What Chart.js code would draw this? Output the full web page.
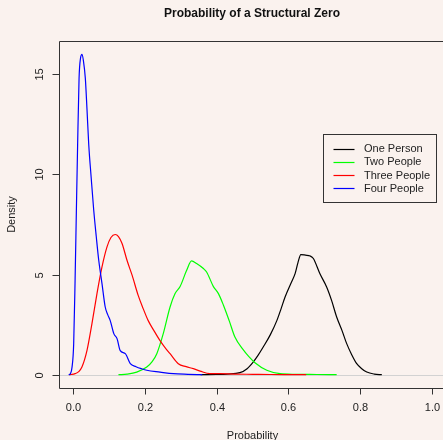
<!DOCTYPE html>
<html>
<head>
<meta charset="utf-8">
<script src="https://cdn.jsdelivr.net/npm/chart.js@4"></script>
<style>
  html, body { margin: 0; padding: 0; background: #FAF2EE; }
  #wrap { width: 443px; height: 440px; }
</style>
</head>
<body>
<div id="wrap"><canvas id="chart" width="443" height="440"></canvas></div>
<script>
// --- data ---
const seriesNames = ['One Person', 'Two People', 'Three People', 'Four People'];
const seriesColors = ['#000000', '#00FF00', '#FF0000', '#0000FF'];

const oneX = [0.355, 0.40, 0.43, 0.465, 0.485, 0.502, 0.515, 0.530, 0.55, 0.568, 0.58, 0.591, 0.609, 0.619, 0.627, 0.635, 0.648, 0.661, 0.670, 0.688, 0.707, 0.721, 0.735, 0.75, 0.763, 0.777, 0.791, 0.805, 0.819, 0.84, 0.861];
const oneY = [0, 0.01, 0.03, 0.1, 0.3, 0.63, 0.95, 1.38, 2.0, 2.7, 3.3, 3.88, 4.63, 5.05, 5.6, 6.0, 5.97, 5.93, 5.8, 5.05, 4.38, 3.7, 2.88, 2.2, 1.55, 1.0, 0.55, 0.3, 0.13, 0.03, 0];

const twoX = [0.126, 0.15, 0.177, 0.205, 0.22, 0.233, 0.251, 0.270, 0.284, 0.298, 0.316, 0.330, 0.344, 0.363, 0.372, 0.391, 0.405, 0.419, 0.435, 0.451, 0.474, 0.490, 0.507, 0.54, 0.577, 0.62, 0.68, 0.735];
const twoY = [0, 0.03, 0.13, 0.38, 0.65, 1.05, 2.05, 3.38, 4.05, 4.4, 5.2, 5.68, 5.55, 5.3, 5.13, 4.4, 4.05, 3.47, 2.7, 1.88, 1.25, 0.9, 0.6, 0.22, 0.05, 0.02, 0.01, 0];

const threeX = [-0.012, -0.005, 0.005, 0.015, 0.024, 0.038, 0.052, 0.066, 0.080, 0.094, 0.105, 0.117, 0.126, 0.136, 0.150, 0.164, 0.181, 0.195, 0.209, 0.225, 0.242, 0.256, 0.270, 0.293, 0.315, 0.335, 0.354, 0.381, 0.41, 0.45, 0.5, 0.55, 0.6, 0.65];
const threeY = [0, 0.01, 0.05, 0.15, 0.38, 1.2, 2.55, 4.05, 5.38, 6.38, 6.85, 7.0, 6.9, 6.55, 5.7, 4.97, 3.96, 3.3, 2.7, 2.2, 1.7, 1.35, 1.05, 0.55, 0.4, 0.3, 0.18, 0.05, 0.05, 0.03, 0.02, 0.01, 0.005, 0];

const fourX = [-0.013, -0.008, -0.0036, 0.001, 0.005, 0.0084, 0.012, 0.016, 0.02, 0.0243, 0.028, 0.0335, 0.038, 0.043, 0.05, 0.057, 0.064, 0.071, 0.080, 0.089, 0.096, 0.103, 0.113, 0.122, 0.131, 0.145, 0.159, 0.175, 0.19, 0.205, 0.242, 0.279, 0.32, 0.36];
const fourY = [0, 0.05, 0.38, 1.55, 4.8, 8.1, 11.5, 14.8, 15.8, 16.0, 15.7, 14.8, 13.3, 11.5, 9.8, 8.2, 6.9, 5.7, 4.55, 3.38, 3.0, 2.7, 2.05, 1.8, 1.2, 1.05, 0.55, 0.4, 0.3, 0.22, 0.13, 0.05, 0.02, 0];

const xTicks = [0.0, 0.2, 0.4, 0.6, 0.8, 1.0];
const xTickLabels = ['0.0', '0.2', '0.4', '0.6', '0.8', '1.0'];
const yTicks = [0, 5, 10, 15];
const yTickLabels = ['0', '5', '10', '15'];

const titleText = 'Probability of a Structural Zero';
const xTitle = 'Probability';
const yTitle = 'Density';

const FONT = '"Liberation Sans", Arial, Helvetica, sans-serif';

function pts(xs, ys) {
    return xs.map((x, i) => ({ x: x, y: ys[i] }));
}

const allX = [oneX, twoX, threeX, fourX];
const allY = [oneY, twoY, threeY, fourY];

// R-like frame, axes, titles and legend
const rStyle = {
    id: 'rStyle',
    beforeDatasetsDraw(chart) {
        const { ctx, chartArea, scales } = chart;
        const y0 = Math.round(scales.y.getPixelForValue(0)) + 0.5;
        ctx.save();
        ctx.strokeStyle = '#D2D2D2';
        ctx.lineWidth = 1.2;
        ctx.beginPath();
        ctx.moveTo(chartArea.left, y0);
        ctx.lineTo(chartArea.right, y0);
        ctx.stroke();
        ctx.restore();
    },
    afterDraw(chart) {
        const { ctx, chartArea, scales } = chart;
        const L = Math.round(chartArea.left) + 0.5;
        const T = Math.round(chartArea.top) + 0.5;
        const B = Math.round(chartArea.bottom) + 0.5;
        ctx.save();
        ctx.strokeStyle = '#333333';
        ctx.lineWidth = 1;

        // box (right edge lies outside the window)
        ctx.beginPath();
        ctx.moveTo(chartArea.right + 5, T);
        ctx.lineTo(L, T);
        ctx.lineTo(L, B);
        ctx.lineTo(chartArea.right + 5, B);
        ctx.stroke();

        // x ticks + labels
        ctx.fillStyle = '#222222';
        ctx.font = '11px ' + FONT;
        ctx.textAlign = 'center';
        ctx.textBaseline = 'middle';
        xTicks.forEach((v, i) => {
            const px = Math.round(scales.x.getPixelForValue(v)) + 0.5;
            ctx.beginPath();
            ctx.moveTo(px, B);
            ctx.lineTo(px, B + 6);
            ctx.stroke();
            ctx.fillText(xTickLabels[i], px, 408);
        });

        // y ticks + rotated labels
        yTicks.forEach((v, i) => {
            const py = Math.round(scales.y.getPixelForValue(v)) + 0.5;
            ctx.beginPath();
            ctx.moveTo(L, py);
            ctx.lineTo(L - 7, py);
            ctx.stroke();
            ctx.save();
            ctx.translate(39.5, py);
            ctx.rotate(-Math.PI / 2);
            ctx.fillText(yTickLabels[i], 0, 0);
            ctx.restore();
        });

        // axis titles
        ctx.fillText(xTitle, (chartArea.left + chartArea.right + 3) / 2, 436);
        ctx.save();
        ctx.translate(12, (chartArea.top + chartArea.bottom) / 2);
        ctx.rotate(-Math.PI / 2);
        ctx.fillText(yTitle, 0, 0);
        ctx.restore();

        // main title
        ctx.font = 'bold 12px ' + FONT;
        ctx.fillStyle = '#111111';
        ctx.fillText(titleText, 252, 14);

        // legend
        ctx.fillStyle = '#FAF2EE';
        ctx.fillRect(323.5, 134.5, 113, 68);
        ctx.strokeStyle = '#333333';
        ctx.strokeRect(323.5, 134.5, 113, 68);
        ctx.font = '11px ' + FONT;
        ctx.textAlign = 'left';
        seriesNames.forEach((name, i) => {
            const ry = 148.5 + i * 13.3;
            ctx.strokeStyle = seriesColors[i];
            ctx.lineWidth = 1.2;
            ctx.beginPath();
            ctx.moveTo(333.5, Math.round(ry) + 0.5);
            ctx.lineTo(354.5, Math.round(ry) + 0.5);
            ctx.stroke();
            ctx.fillStyle = '#222222';
            ctx.fillText(name, 364, ry + 0.5);
        });
        ctx.restore();
    }
};

new Chart(document.getElementById('chart'), {
    type: 'line',
    data: {
        datasets: seriesNames.map((name, i) => ({
            label: name,
            data: pts(allX[i], allY[i]),
            borderColor: seriesColors[i],
            borderWidth: 1.2,
            pointRadius: 0,
            fill: false,
            cubicInterpolationMode: 'monotone',
            order: 4 - i
        }))
    },
    options: {
        responsive: false,
        animation: false,
        layout: { padding: { left: 59, top: 41, right: 0, bottom: 52 } },
        scales: {
            x: { type: 'linear', min: -0.04, max: 1.0318, display: false },
            y: { type: 'linear', min: -0.665, max: 16.665, display: false }
        },
        plugins: {
            legend: { display: false },
            title: { display: false },
            tooltip: { enabled: false }
        }
    },
    plugins: [rStyle]
});
</script>
</body>
</html>
